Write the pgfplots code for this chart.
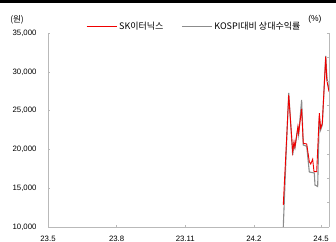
\documentclass[border=0pt]{standalone}
\usepackage{pgfplots}
\pgfplotsset{compat=1.18}
\usepackage{fontspec}
\setmainfont{Liberation Sans}
\newfontfamily\kr{Noto Sans CJK KR}
\definecolor{axgray}{RGB}{185,185,185}
\definecolor{lngray}{RGB}{140,140,140}
\definecolor{skred}{RGB}{240,0,0}
\begin{document}
\begin{tikzpicture}[x=1pt,y=1pt]
\fill[black] (0,238) rectangle (336,241);
\begin{axis}[at={(48pt,14pt)}, anchor=south west, scale only axis,
  width=281pt, height=194pt,
  xmin=0, xmax=376.7, ymin=10000, ymax=35000,
  axis x line*=bottom, axis y line*=left,
  axis line style={draw=axgray, line width=0.8pt, -},
  ytick={10000,15000,20000,25000,30000,35000},
  xtick={0,92,184,276,366}, xticklabels={23.5,23.8,23.11,24.2,24.5},
  tick align=inside, major tick length=2pt, tick style={draw=axgray, line width=0.6pt},
  scaled y ticks=false,
  /pgf/number format/assume math mode=true,
  /pgf/number format/1000 sep={,},
  yticklabel style={font=\fontsize{7.8}{8}\selectfont, xshift=-8pt},
  xticklabel style={font=\fontsize{7.8}{8}\selectfont, yshift=-6pt},
  ylabel={\kr (원)}, ylabel style={rotate=-90, at={(axis description cs:-0.11,1.067)}, anchor=center, font=\fontsize{8.5}{9}\selectfont},
  legend columns=2,
  legend style={draw=none, fill=none, at={(axis description cs:0.135,1.031)}, anchor=west,
    font=\kr\fontsize{9}{10}\selectfont, inner sep=0pt, row sep=0pt,
    /tikz/every even column/.append style={column sep=16pt}},
  legend image code/.code={\draw[#1,line width=1pt] (0pt,0pt) -- (30pt,0pt);},
  legend cell align=left,
]
\addlegendimage{skred}
\addlegendentry{SK이터닉스}
\addplot[color=lngray, line width=1.1pt] coordinates {
(315.4,10000) (320,21200) (322.7,27270) (328,19280) (329.8,20650) (331,20200)
(335,22700) (336,21900) (340,26370) (342.2,20570) (346.8,20400) (350.3,17090)
(357,16960) (357.9,15410) (361.5,15220) (363.7,24050) (365.5,22500) (367.7,23150)
(372.3,32040) (374,29200) (376.7,27660)
};
\addlegendentry{KOSPI대비 상대수익률}
\addplot[color=skred, line width=0.9pt, forget plot] coordinates {
(315.4,12840) (320,21640) (322.7,27010) (328,19700) (329.8,21000) (331,20300)
(335,22930) (336,22120) (340,25210) (342.2,20790) (346.8,20700) (350.3,18420)
(352.2,18120) (354.8,18730) (356.6,17130) (360.2,17130) (363.7,24660) (365.5,22720)
(367.7,23370) (372.3,31950) (373.7,28950) (376.7,27440)
};
\end{axis}
\begin{axis}[at={(48pt,14pt)}, anchor=south west, scale only axis,
  width=281pt, height=194pt,
  xmin=0, xmax=376.7, ymin=0, ymax=8,
  axis x line=none, axis y line*=right,
  axis line style={draw=axgray, line width=0.8pt, -},
  ytick={0,1,2,3,4,5,6,7,8}, yticklabels={},
  tick align=inside, major tick length=2pt, tick style={draw=axgray, line width=0.6pt},
  ylabel={(\%)}, ylabel style={rotate=-90, at={(axis description cs:0.95,1.072)}, anchor=center, font=\fontsize{8.5}{9}\selectfont},
]
\end{axis}
\pgfresetboundingbox
\useasboundingbox (0,0) rectangle (336,241);
\end{tikzpicture}
\end{document}
